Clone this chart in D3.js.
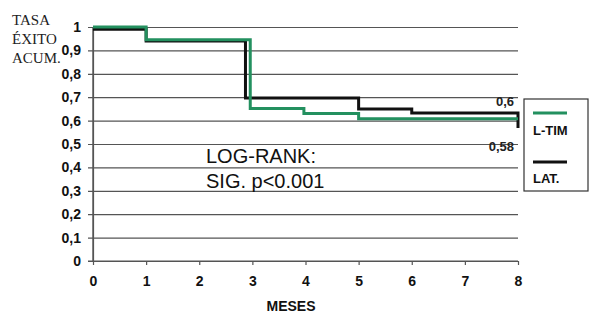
<!DOCTYPE html>
<html>
  <head>
    <meta charset="utf-8">
    <title></title>
    <style>
      body {
        margin: 0;
        background: #fff;
        font-family: "Liberation Sans", Arial, sans-serif;
      }
      svg {
        display: block;
      }
      .grid line {
        stroke: #8a8a8a;
        stroke-width: 1.4;
      }
      .grid .domain {
        stroke: none;
      }
      .axis text {
        font-weight: bold;
        font-size: 14px;
        fill: #111;
      }
      .axis line, .axis .domain {
        stroke: #555;
        stroke-width: 1.2;
      }
    </style>
  </head>
  <body>
    <div id="chart"></div>
    <script src="https://cdn.jsdelivr.net/npm/d3@7"></script>
    <script>

      let months = [0, 1, 2, 3, 4, 5, 6, 7, 8];
      let yTicks = [0, 0.1, 0.2, 0.3, 0.4, 0.5, 0.6, 0.7, 0.8, 0.9, 1];

      // step change times and the value after each step
      let ltimTimes = [0, 1, 2.96, 3.97, 5, 8];
      let ltimValues = [1.0, 0.945, 0.652, 0.63, 0.608, 0.608];
      let latTimes = [0, 1, 2.87, 5, 6, 8, 8];
      let latValues = [0.99, 0.94, 0.697, 0.65, 0.632, 0.632, 0.568];

      let seriesNames = ['L-TIM', 'LAT.'];
      let endLabels = ['0,6', '0,58'];
      let endLabelValues = [0.662, 0.472];

      let elWidth = 600, elHeight = 322;
      let margin = {top: 27, right: 82, bottom: 61, left: 93};
      let width = elWidth - margin.left - margin.right;
      let height = elHeight - margin.top - margin.bottom;

      let svg = d3.select('#chart').append('svg')
        .attr('width', elWidth)
        .attr('height', elHeight);

      let g = svg.append('g').attr('transform', 'translate(' + margin.left + ',' + margin.top + ')');

      let x = d3.scaleLinear().domain([0, 8]).range([0, width]);
      let y = d3.scaleLinear().domain([0, 1]).range([height, 0]);

      // gridlines with y tick labels
      let yAxis = g.append('g')
        .attr('class', 'axis grid')
        .call(d3.axisLeft(y).tickValues(yTicks).tickSize(-width)
          .tickFormat(d => d3.format('.1~f')(d).replace('.', ',')));
      yAxis.selectAll('line').attr('x1', -5).attr('x2', width);
      yAxis.selectAll('text').attr('x', -12);

      g.append('g')
        .attr('class', 'axis')
        .attr('transform', 'translate(0,' + height + ')')
        .call(d3.axisBottom(x).tickValues(months).tickSize(4).tickSizeOuter(0).tickPadding(11))
        .select('.domain').attr('d', 'M' + (-5) + ',0H' + width);

      g.append('line')
        .attr('x1', 0).attr('x2', 0)
        .attr('y1', y(1)).attr('y2', y(0))
        .attr('stroke', '#555').attr('stroke-width', 1.4);

      let line = d3.line()
        .x(d => x(d[0]))
        .y(d => y(d[1]))
        .curve(d3.curveStepAfter);

      let latData = latTimes.map((t, i) => [t, latValues[i]]);
      let ltimData = ltimTimes.map((t, i) => [t, ltimValues[i]]);

      g.append('path')
        .datum(latData)
        .attr('fill', 'none')
        .attr('stroke', '#111')
        .attr('stroke-width', 3)
        .attr('d', line);

      g.append('path')
        .datum(ltimData)
        .attr('fill', 'none')
        .attr('stroke', '#23905f')
        .attr('stroke-width', 3)
        .attr('d', line);

      endLabels.forEach((t, i) => {
        g.append('text')
          .attr('x', x(8) - 4)
          .attr('y', y(endLabelValues[i]))
          .attr('text-anchor', 'end')
          .attr('font-size', 13)
          .attr('font-weight', 'bold')
          .attr('fill', '#222')
          .text(t);
      });

      // y axis title
      svg.append('text')
        .attr('font-family', '"Liberation Serif", serif')
        .attr('font-size', 15)
        .attr('fill', '#222')
        .selectAll('tspan')
        .data(['TASA', 'ÉXITO', 'ACUM.'])
        .join('tspan')
        .attr('x', 12)
        .attr('y', (d, i) => 25 + i * 19)
        .text(d => d);

      svg.append('text')
        .attr('x', 291)
        .attr('y', 311)
        .attr('text-anchor', 'middle')
        .attr('font-weight', 'bold')
        .attr('font-size', 14)
        .attr('fill', '#111')
        .text('MESES');

      svg.append('text')
        .attr('font-size', 20)
        .attr('fill', '#111')
        .selectAll('tspan')
        .data(['LOG-RANK:', 'SIG. p<0.001'])
        .join('tspan')
        .attr('x', 206)
        .attr('y', (d, i) => 163 + i * 25)
        .text(d => d);

      // legend
      let legend = svg.append('g').attr('transform', 'translate(524,99)');
      legend.append('rect')
        .attr('width', 64).attr('height', 92)
        .attr('fill', 'none').attr('stroke', '#333').attr('stroke-width', 1.2);
      let colors = ['#23905f', '#111'];
      seriesNames.forEach((n, i) => {
        legend.append('line')
          .attr('x1', 9).attr('x2', 43)
          .attr('y1', 14 + i * 49).attr('y2', 14 + i * 49)
          .attr('stroke', colors[i]).attr('stroke-width', 3);
        legend.append('text')
          .attr('x', 9).attr('y', 36 + i * 48)
          .attr('font-size', 13)
          .attr('font-weight', 'bold')
          .attr('fill', '#111')
          .text(n);
      });

    </script>
  </body>
</html>
